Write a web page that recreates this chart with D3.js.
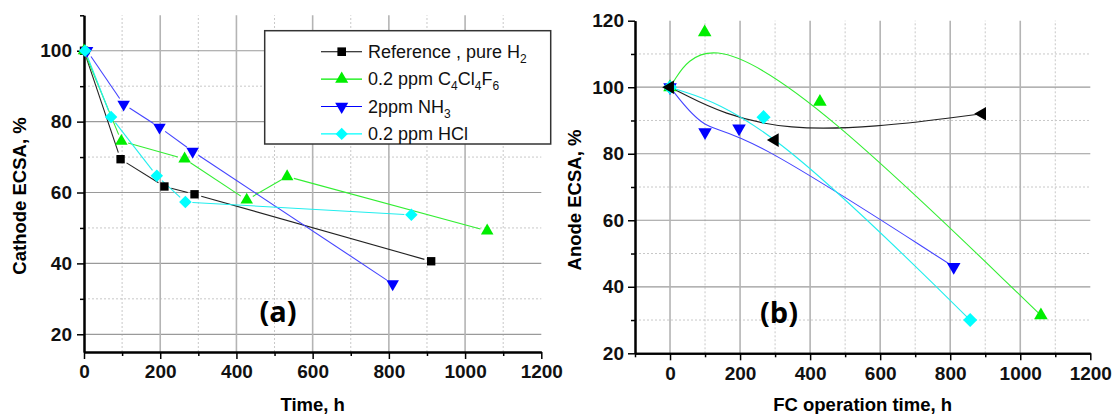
<!DOCTYPE html>
<html>
<head>
<meta charset="utf-8">
<script src="https://cdn.jsdelivr.net/npm/d3@7"></script>
<style>
  body { margin: 0; background: #fff; }
  svg { display: block; font-family: "Liberation Sans", Arial, sans-serif; }
</style>
</head>
<body>
<script>
// ---- data ----
// (a) cathode ECSA vs time
const cathRefTime = [0, 96, 211, 290, 911]
const cathRefEcsa = [100, 69.4, 61.7, 59.5, 40.6]
const cathC4Time = [0, 98, 264, 427, 533, 1058]
const cathC4Ecsa = [100, 74.5, 69.5, 57.9, 64.5, 49.2]
const cathNh3Time = [8, 104, 198, 285, 810]
const cathNh3Ecsa = [100, 84.9, 78.4, 71.6, 34.2]
const cathHclTime = [3, 71, 191, 266, 859]
const cathHclEcsa = [100, 81.3, 64.7, 57.3, 53.7]

// (b) anode ECSA vs FC operation time
const anRefTime = [0, 299, 891]
const anRefEcsa = [100, 84.1, 92.0]
const anC4Time = [0, 99, 428, 1059]
const anC4Ecsa = [100, 116.5, 95.6, 31.4]
const anNh3Time = [0, 100, 197, 810]
const anNh3Ecsa = [100, 86.5, 87.6, 46.0]
const anHclTime = [0, 267, 857]
const anHclEcsa = [100, 91, 30.0]

// legend labels, "_n" = subscript
const seriesNames = ['Reference , pure H_2', '0.2 ppm C_4Cl_4F_6', '2ppm NH_3', '0.2 ppm HCl']

// ticks
const cathXMajor = [0, 200, 400, 600, 800, 1000, 1200]
const cathXMinor = [100, 300, 500, 700, 900, 1100]
const cathYMajor = [20, 40, 60, 80, 100]
const cathYMinor = [30, 50, 70, 90, 110]
const anXMajor = [0, 200, 400, 600, 800, 1000, 1200]
const anXMinor = [-100, 100, 300, 500, 700, 900, 1100]
const anYMajor = [20, 40, 60, 80, 100, 120]
const anYMinor = [30, 50, 70, 90, 110]

// ---- styles ----
const seriesColors = ['#000000', '#00ee00', '#0000ff', '#00ffff']
const lineColors = ['#222222', '#33ee33', '#4444ff', '#22eeee']
const FONT = '"Liberation Sans", Arial, sans-serif'

const svg = d3.select('body').append('svg')
  .attr('width', 1115)
  .attr('height', 414)

function zip (xs, ys) {
  return xs.map((x, i) => ({ x, y: ys[i] }))
}

// marker shapes: square, up triangle, down triangle, diamond, left triangle
function markerPath (kind, size) {
  if (kind === 'square' || kind === 'diamond') return d3.symbol(d3.symbolSquare, size)()
  return d3.symbol(d3.symbolTriangle, size)()
}
function markerRotate (kind) {
  return { square: 0, up: 0, down: 180, diamond: 45, left: -90 }[kind]
}

function drawPanel (p) {
  const g = svg.append('g')
  const x = d3.scaleLinear().domain(p.xDomain).range(p.xRange)
  const y = d3.scaleLinear().domain(p.yDomain).range(p.yRange)
  const [x0, x1] = p.xRange
  const [yb, yt] = p.yRange

  // grid: minor dotted, major solid
  const grid = g.append('g')
  grid.selectAll('.hmin').data(p.yMinor.filter(v => v < p.yDomain[1])).join('line')
    .attr('x1', x0).attr('x2', x1).attr('y1', d => y(d)).attr('y2', d => y(d))
    .attr('stroke', '#c8c8c8').attr('stroke-width', 1).attr('stroke-dasharray', '2,2')
  grid.selectAll('.vmin').data(p.xMinor.filter(v => v > p.xDomain[0])).join('line')
    .attr('x1', d => x(d)).attr('x2', d => x(d)).attr('y1', yb).attr('y2', yt)
    .attr('stroke', '#c8c8c8').attr('stroke-width', 1).attr('stroke-dasharray', '2,2')
  grid.selectAll('.hmaj').data(p.yMajor.filter(v => v > p.yDomain[0] && v < p.yDomain[1])).join('line')
    .attr('x1', x0).attr('x2', x1).attr('y1', d => y(d)).attr('y2', d => y(d))
    .attr('stroke', '#9a9a9a').attr('stroke-width', 1.2)
  grid.selectAll('.vmaj').data(p.xMajor.filter(v => v > p.xDomain[0] && v < p.xDomain[1])).join('line')
    .attr('x1', d => x(d)).attr('x2', d => x(d)).attr('y1', yb).attr('y2', yt)
    .attr('stroke', '#b4b4b4').attr('stroke-width', 1.6)

  // axes
  const styleAxis = (sel) => {
    sel.select('.domain').attr('stroke', '#000').attr('stroke-width', 2)
    sel.selectAll('.tick line').attr('stroke', '#000').attr('stroke-width', 1.5)
    sel.selectAll('.tick text')
      .attr('fill', '#111')
      .style('font-family', FONT)
      .style('font-size', '19px')
      .style('font-weight', 'bold')
  }
  g.append('g').attr('transform', `translate(0,${yb})`)
    .call(d3.axisBottom(x).tickValues(p.xMinor).tickSize(4).tickSizeOuter(0).tickFormat(''))
    .call(styleAxis)
  g.append('g').attr('transform', `translate(0,${yb})`)
    .call(d3.axisBottom(x).tickValues(p.xMajor).tickSize(7).tickSizeOuter(0).tickPadding(6).tickFormat(d3.format('d')))
    .call(styleAxis)
  g.append('g').attr('transform', `translate(${x0},0)`)
    .call(d3.axisLeft(y).tickValues(p.yMinor).tickSize(4).tickSizeOuter(0).tickFormat(''))
    .call(styleAxis)
  g.append('g').attr('transform', `translate(${x0},0)`)
    .call(d3.axisLeft(y).tickValues(p.yMajor).tickSize(7).tickSizeOuter(0).tickPadding(p.yPad).tickFormat(d3.format('d')))
    .call(styleAxis)

  // axis titles
  g.append('text')
    .attr('x', (x0 + x1) / 2).attr('y', 411)
    .attr('text-anchor', 'middle')
    .style('font-size', '18.5px').style('font-weight', 'bold')
    .text(p.xTitle)
  g.append('text')
    .attr('transform', `translate(${p.yTitleX},${p.yTitleY}) rotate(-90)`)
    .attr('text-anchor', 'middle')
    .style('font-size', '18.5px').style('font-weight', 'bold')
    .text(p.yTitle)

  // series lines
  const plot = g.append('g')
  p.series.forEach((s, i) => {
    const pts = zip(s.x, s.y)
    if (p.smooth) {
      const line = d3.line().x(d => x(d.x)).y(d => y(d.y)).curve(d3.curveBasis)
      plot.append('path').attr('d', line(pts))
        .attr('fill', 'none').attr('stroke', lineColors[i]).attr('stroke-width', 1.1)
    } else {
      // straight segments with a small gap around each symbol
      const segs = d3.pairs(pts)
      plot.selectAll(null).data(segs).join('line')
        .each(function ([a, b]) {
          const ax = x(a.x), ay = y(a.y), bx = x(b.x), by = y(b.y)
          const len = Math.hypot(bx - ax, by - ay)
          const gap = Math.min(p.gap, len / 3)
          const ux = (bx - ax) / len, uy = (by - ay) / len
          d3.select(this)
            .attr('x1', ax + ux * gap).attr('y1', ay + uy * gap)
            .attr('x2', bx - ux * gap).attr('y2', by - uy * gap)
        })
        .attr('stroke', lineColors[i]).attr('stroke-width', 1.1)
    }
  })

  // symbols (reference drawn last so it sits on top in panel b)
  p.drawOrder.forEach(i => {
    const s = p.series[i]
    plot.selectAll(null).data(zip(s.x, s.y)).join('path')
      .attr('d', markerPath(s.marker, s.size))
      .attr('transform', d => `translate(${x(d.x)},${y(d.y)}) rotate(${markerRotate(s.marker)})`)
      .attr('fill', seriesColors[i])
  })

  // panel tag
  g.append('text')
    .attr('x', p.tag[1]).attr('y', p.tag[2])
    .attr('text-anchor', 'middle')
    .style('font-family', '"Open Sans", "Liberation Sans", sans-serif')
    .style('font-size', '29px').style('font-weight', 'bold')
    .text(p.tag[0])

  return g
}

// ---- panel (a) ----
drawPanel({
  xDomain: [0, 1200], xRange: [84, 541.3],
  yDomain: [15, 110], yRange: [352, 15.3],
  xMajor: cathXMajor, xMinor: cathXMinor,
  yMajor: cathYMajor, yMinor: cathYMinor,
  yPad: 5,
  xTitle: 'Time, h', yTitle: 'Cathode ECSA, %',
  yTitleX: 26, yTitleY: 196,
  smooth: false, gap: 7,
  series: [
    { x: cathRefTime, y: cathRefEcsa, marker: 'square', size: 70 },
    { x: cathC4Time, y: cathC4Ecsa, marker: 'up', size: 68 },
    { x: cathNh3Time, y: cathNh3Ecsa, marker: 'down', size: 68 },
    { x: cathHclTime, y: cathHclEcsa, marker: 'diamond', size: 78 }
  ],
  drawOrder: [0, 1, 2, 3],
  tag: ['(a)', 278, 322]
})

// ---- panel (b) ----
drawPanel({
  xDomain: [-100, 1200], xRange: [635, 1090.3],
  yDomain: [20, 120], yRange: [353.3, 20.7],
  xMajor: anXMajor, xMinor: anXMinor,
  yMajor: anYMajor, yMinor: anYMinor,
  yPad: 4,
  xTitle: 'FC operation time, h', yTitle: 'Anode ECSA, %',
  yTitleX: 581, yTitleY: 200,
  smooth: true,
  series: [
    { x: anRefTime, y: anRefEcsa, marker: 'left', size: 80 },
    { x: anC4Time, y: anC4Ecsa, marker: 'up', size: 80 },
    { x: anNh3Time, y: anNh3Ecsa, marker: 'down', size: 80 },
    { x: anHclTime, y: anHclEcsa, marker: 'diamond', size: 100 }
  ],
  drawOrder: [1, 2, 3, 0],
  tag: ['(b)', 779, 323]
})

// ---- legend (inside panel a) ----
const legend = svg.append('g')
legend.append('rect')
  .attr('x', 264.7).attr('y', 30.7)
  .attr('width', 286).attr('height', 113.3)
  .attr('fill', '#fff').attr('stroke', '#333').attr('stroke-width', 1.5)

const legendMarkers = ['square', 'up', 'down', 'diamond']
const legendRows = legend.selectAll('.row').data(seriesNames).join('g')
  .attr('transform', (d, i) => `translate(0,${51.7 + i * 27.4})`)
legendRows.append('line')
  .attr('x1', 321).attr('x2', 362).attr('y1', 0).attr('y2', 0)
  .attr('stroke', (d, i) => seriesColors[i]).attr('stroke-width', 1.1)
legendRows.append('path')
  .attr('d', (d, i) => markerPath(legendMarkers[i], 74))
  .attr('transform', (d, i) => `translate(341.7,0) rotate(${markerRotate(legendMarkers[i])})`)
  .attr('fill', (d, i) => seriesColors[i])
legendRows.append('text')
  .attr('x', 368).attr('y', 6)
  .style('font-size', '18px')
  .attr('fill', '#111')
  .each(function (d) {
    const t = d3.select(this)
    // split "A_2B" into normal/subscript pieces
    const parts = d.split(/_(\d)/)
    let sub = false
    parts.forEach((part, k) => {
      if (part === '') return
      const isSub = k % 2 === 1
      const ts = t.append('tspan').text(part)
      if (isSub && !sub) { ts.attr('dy', 5).style('font-size', '12px'); sub = true }
      else if (isSub) { ts.style('font-size', '12px') }
      else if (sub) { ts.attr('dy', -5); sub = false }
    })
  })
</script>
</body>
</html>
